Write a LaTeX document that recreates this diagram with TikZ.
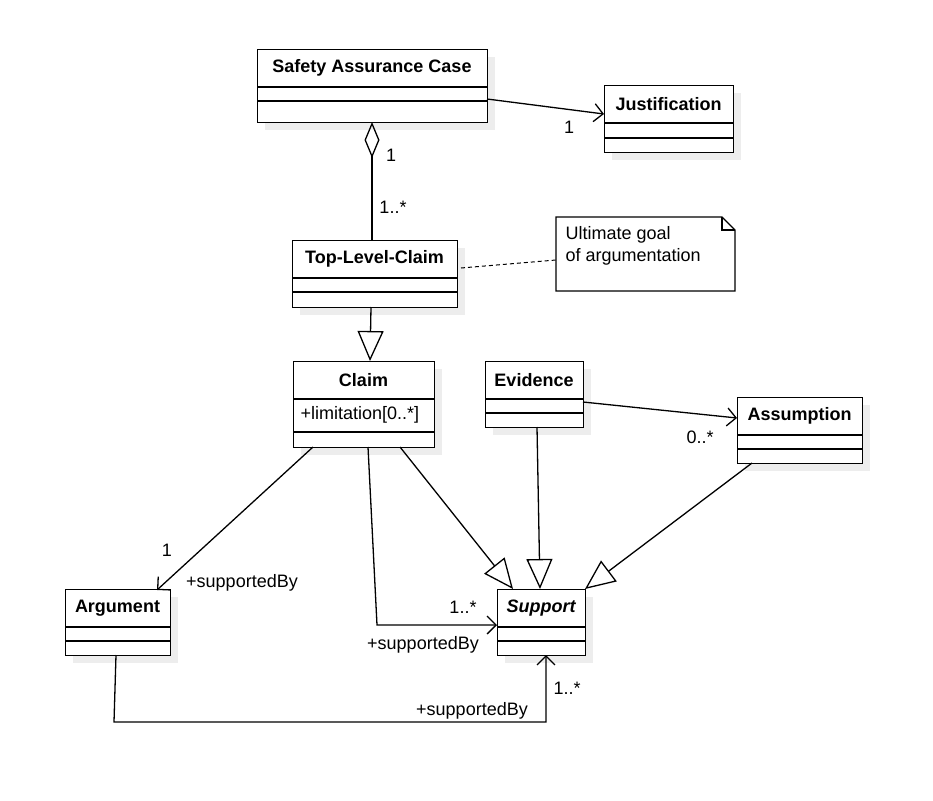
\documentclass[tikz,border=0pt]{standalone}
\usepackage{fontspec}
\setmainfont{Liberation Sans}
\usetikzlibrary{arrows.meta}
\begin{document}
\begin{tikzpicture}[x=1pt,y=-1pt,
  line width=1.3pt,
  txt/.style={font=\fontsize{18}{22}\selectfont, inner sep=0pt},
  ttl/.style={font=\fontsize{18}{22}\selectfont\bfseries, inner sep=0pt},
  lbl/.style={font=\fontsize{18}{22}\selectfont, inner sep=0pt},
  assoc/.style={-{Straight Barb[length=9pt,width=18pt,line width=1.3pt]}},
  gen/.style={-{Triangle[open,length=30pt,width=26pt,line width=1.3pt]}},
  agg/.style={{Diamond[open,length=36pt,width=15pt,line width=1.3pt]}-},
  shadow/.style={fill=black!7, draw=none}]
\useasboundingbox (0,0) rectangle (933,800);
% class macro: name, x1, y1, x2, y2, compartment line a, line b
\newcommand{\umlcls}[8]{%
  \fill[shadow] (#2+8,#3+8) rectangle (#4+8,#5+8);
  \node[draw, fill=white, anchor=north west, minimum width=#4-#2, minimum height=#5-#3, inner sep=0pt] (#1) at (#2,#3) {};
  \draw (#2,#6) -- (#4,#6) (#2,#7) -- (#4,#7);
  \node[ttl] (#1-t) at ({(#2+#4)/2},{(#3+#6)/2}) {#8};
}
\umlcls{sac}{257}{49}{487}{122}{87}{101}{Safety Assurance Case}
\umlcls{jus}{604}{85}{733}{152}{123}{138}{Justification}
\umlcls{tlc}{292}{240}{457}{307}{278}{292}{Top-Level-Claim}
\umlcls{clm}{293}{361}{434}{447}{399}{432}{Claim}
\node[txt, anchor=west] (clm-a) at (300,415) {+limitation[0..*]};
\umlcls{evi}{485}{361}{583}{427}{399}{413}{Evidence}
\umlcls{asm}{737}{397}{862}{463}{435}{449}{Assumption}
\umlcls{arg}{65}{589}{170}{655}{627}{641}{Argument}
\fill[shadow] (505,597) rectangle (593,663);
\node[draw, fill=white, anchor=north west, minimum width=88, minimum height=66, inner sep=0pt] (sup) at (497,589) {};
\draw (497,627) -- (585,627) (497,641) -- (585,641);
\node[ttl, font=\fontsize{18}{22}\selectfont\bfseries\itshape] (sup-t) at (541,608) {Support};
% note
\draw[fill=white] (556,217) -- (722,217) -- (735,230) -- (735,291) -- (556,291) -- cycle;
\draw (722,217) -- (722,230) -- (735,230);
\coordinate (note) at (556,260);
\node[txt, anchor=north west, align=left] (notet) at (565,226) {Ultimate goal\\of argumentation};
% connectors
\coordinate (sacR) at (487,99); \coordinate (jusL) at (604,114);
\draw[assoc] (sacR) -- (jusL);
\node[lbl] (l1) at (569,127) {1};
\coordinate (sacB) at (372,122); \coordinate (tlcT) at (372,240);
\draw[agg] (sacB) -- (tlcT);
\node[lbl] (l2) at (391,155) {1};
\node[lbl] (l3) at (393,207) {1..*};
\coordinate (tlcR) at (461,268);
\draw[dashed, line width=1pt, dash pattern=on 4pt off 3pt] (tlcR) -- (note);
\coordinate (tlcB) at (371,307); \coordinate (clmT) at (370,361);
\draw[gen] (tlcB) -- (clmT);
\coordinate (c1) at (313,447); \coordinate (argT) at (157,590);
\draw[assoc] (c1) -- (argT);
\node[lbl] (l4) at (167,550) {1};
\node[lbl] (l5) at (242,583) {+supportedBy};
\coordinate (c2) at (368,447); \coordinate (c2b) at (377,625); \coordinate (supL) at (497,625);
\draw[assoc] (c2) -- (c2b) -- (supL);
\node[lbl] (l6) at (463,607) {1..*};
\node[lbl] (l7) at (423,645) {+supportedBy};
\coordinate (c3) at (400,447); \coordinate (sT1) at (513,589);
\draw[gen] (c3) -- (sT1);
\coordinate (eB) at (537,427); \coordinate (sT2) at (540,589);
\draw[gen] (eB) -- (sT2);
\coordinate (aB) at (752,463); \coordinate (sT3) at (585,589);
\draw[gen] (aB) -- (sT3);
\coordinate (eR) at (583,402); \coordinate (asmL) at (737,418);
\draw[assoc] (eR) -- (asmL);
\node[lbl] (l8) at (700,437) {0..*};
\coordinate (argB) at (116,655); \coordinate (a1) at (114,722); \coordinate (a2) at (546,722); \coordinate (supB) at (546,655);
\draw[assoc] (argB) -- (a1) -- (a2) -- (supB);
\node[lbl] (l9) at (567,688) {1..*};
\node[lbl] (l10) at (472,711) {+supportedBy};
\end{tikzpicture}
\end{document}
